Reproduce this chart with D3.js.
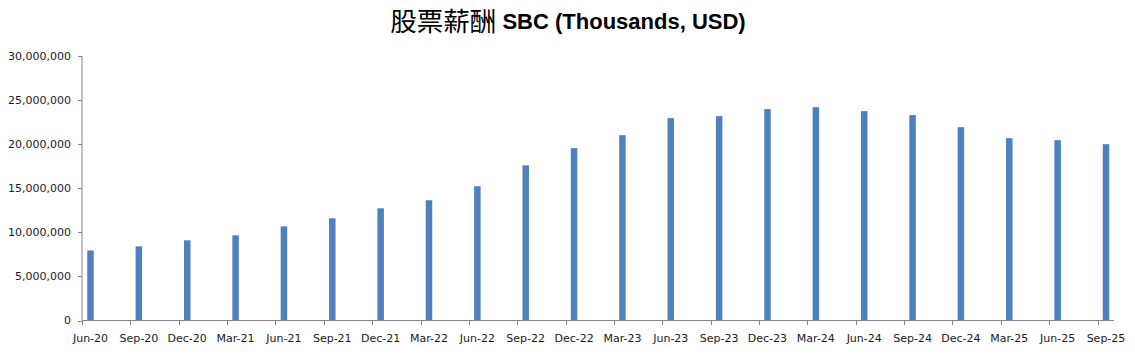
<!DOCTYPE html>
<html>
<head>
<meta charset="utf-8">
<script src="https://cdn.jsdelivr.net/npm/d3@7"></script>
<style>
  html, body { margin: 0; padding: 0; background: #fff; }
  svg { display: block; }
</style>
</head>
<body>
<svg id="chart" width="1135" height="357"></svg>
<script>
const categories = ["Jun-20","Sep-20","Dec-20","Mar-21","Jun-21","Sep-21","Dec-21","Mar-22","Jun-22","Sep-22","Dec-22","Mar-23","Jun-23","Sep-23","Dec-23","Mar-24","Jun-24","Sep-24","Dec-24","Mar-25","Jun-25","Sep-25"];
const sbcValues = [7950000, 8410000, 9090000, 9660000, 10680000, 11590000, 12730000, 13640000, 15230000, 17600000, 19550000, 21020000, 22950000, 23180000, 23980000, 24200000, 23750000, 23300000, 21930000, 20680000, 20450000, 20000000];
const yTicks = [0, 5000000, 10000000, 15000000, 20000000, 25000000, 30000000];
const titleCJK = "股票薪酬";
const titleLatin = "SBC (Thousands, USD)";

const svg = d3.select("#chart");
const axisColor = "#868686";
const textColor = "#1a1a1a";
const barColor = "#4F81BD";
const barWidth = 6.5;
const tickOffset = 8.5;

const x = d3.scalePoint().domain(categories).range([90.5, 1106]);
const y = d3.scaleLinear().domain([0, 30000000]).range([320.5, 56]);

const axisLeftX = 82;
const axisRightX = 1114;

// Title
const title = svg.append("text")
  .attr("x", 568)
  .attr("y", 30.5)
  .attr("text-anchor", "middle")
  .attr("fill", "#000");
title.append("tspan")
  .attr("font-family", "'Noto Sans CJK TC', 'Noto Sans CJK SC', sans-serif")
  .attr("font-size", 26.5)
  .text(titleCJK);
title.append("tspan")
  .attr("font-family", "'Liberation Sans', Arial, sans-serif")
  .attr("font-weight", "bold")
  .attr("font-size", 22)
  .attr("dy", -1.5)
  .text(" " + titleLatin);

// Bars
svg.append("g").selectAll("rect")
  .data(sbcValues)
  .join("rect")
  .attr("x", (d, i) => x(categories[i]) - barWidth / 2)
  .attr("y", d => y(d))
  .attr("width", barWidth)
  .attr("height", d => y(0) - y(d))
  .attr("fill", barColor);

// Y axis
const gy = svg.append("g");
gy.append("line")
  .attr("x1", axisLeftX).attr("x2", axisLeftX)
  .attr("y1", y(30000000)).attr("y2", y(0))
  .attr("stroke", axisColor).attr("stroke-width", 1);
gy.selectAll("line.tick")
  .data(yTicks)
  .join("line")
  .attr("class", "tick")
  .attr("x1", axisLeftX - 4).attr("x2", axisLeftX)
  .attr("y1", d => Math.round(y(d)) + 0.5).attr("y2", d => Math.round(y(d)) + 0.5)
  .attr("stroke", axisColor);
gy.selectAll("text")
  .data(yTicks)
  .join("text")
  .attr("x", 71)
  .attr("y", d => y(d))
  .attr("dy", "0.36em")
  .attr("text-anchor", "end")
  .attr("font-family", "'DejaVu Sans', Verdana, sans-serif")
  .attr("font-size", 11)
  .attr("fill", textColor)
  .text(d => d3.format(",")(d));

// X axis
const gx = svg.append("g");
gx.append("line")
  .attr("x1", axisLeftX).attr("x2", axisRightX)
  .attr("y1", 320.5).attr("y2", 320.5)
  .attr("stroke", axisColor).attr("stroke-width", 1);
gx.selectAll("line.tick")
  .data(categories)
  .join("line")
  .attr("class", "tick")
  .attr("x1", d => Math.round(x(d) - tickOffset) + 0.5)
  .attr("x2", d => Math.round(x(d) - tickOffset) + 0.5)
  .attr("y1", 320.5).attr("y2", 325)
  .attr("stroke", axisColor);
gx.selectAll("text")
  .data(categories)
  .join("text")
  .attr("x", d => x(d))
  .attr("y", 342)
  .attr("text-anchor", "middle")
  .attr("font-family", "'DejaVu Sans', Verdana, sans-serif")
  .attr("font-size", 11)
  .attr("fill", textColor)
  .text(d => d);
</script>
</body>
</html>
